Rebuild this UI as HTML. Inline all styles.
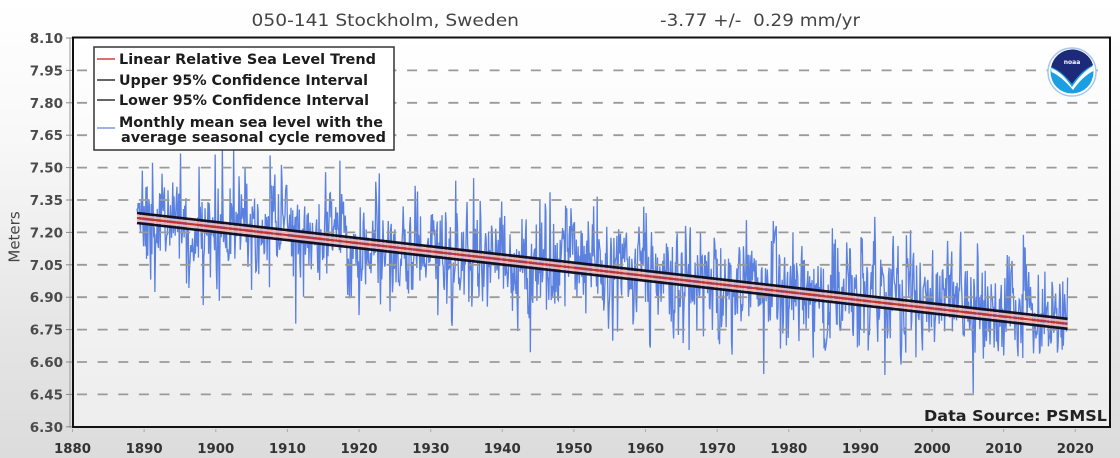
<!DOCTYPE html>
<html><head><meta charset="utf-8">
<style>
html,body{margin:0;padding:0;}
body{width:1120px;height:458px;overflow:hidden;background:linear-gradient(#ffffff 0%,#f8f8f8 30%,#e4e4e4 75%,#dcdcdc 100%);}
svg{display:block;}
text{font-family:"DejaVu Sans","Liberation Sans",sans-serif;}
</style></head><body>
<svg width="1120" height="458" viewBox="0 0 1120 458" xmlns="http://www.w3.org/2000/svg">
<defs>
<linearGradient id="pg" x1="0" y1="0" x2="0" y2="1"><stop offset="0" stop-color="#ffffff"/><stop offset="1" stop-color="#ededed"/></linearGradient>
<clipPath id="clip"><rect x="73" y="38" width="1037" height="389"/></clipPath>
</defs>

<text x="251.5" y="26" font-size="16.5" fill="#444" textLength="267.5" lengthAdjust="spacingAndGlyphs">050-141 Stockholm, Sweden</text>
<text x="660" y="26" font-size="16.5" fill="#444" textLength="200" lengthAdjust="spacingAndGlyphs" style="white-space:pre">-3.77 +/-  0.29 mm/yr</text>

<rect x="73" y="38" width="1037" height="389" fill="url(#pg)"/>

<polyline id="sea" clip-path="url(#clip)" fill="none" stroke="#5a80e0" stroke-width="1.3" points=""/>

<g stroke="#9a9a9a" stroke-width="1.8" stroke-dasharray="10 10.63">
<line x1="77" y1="70.4" x2="1108" y2="70.4"/>
<line x1="77" y1="102.8" x2="1108" y2="102.8"/>
<line x1="77" y1="135.2" x2="1108" y2="135.2"/>
<line x1="77" y1="167.6" x2="1108" y2="167.6"/>
<line x1="77" y1="200" x2="1108" y2="200"/>
<line x1="77" y1="232.4" x2="1108" y2="232.4"/>
<line x1="77" y1="264.8" x2="1108" y2="264.8"/>
<line x1="77" y1="297.2" x2="1108" y2="297.2"/>
<line x1="77" y1="329.6" x2="1108" y2="329.6"/>
<line x1="77" y1="362" x2="1108" y2="362"/>
<line x1="77" y1="394.4" x2="1108" y2="394.4"/>
</g>

<g fill="none">
<line x1="137" y1="213" x2="1067.6" y2="318.8" stroke="#111122" stroke-width="2.6"/>
<line x1="137" y1="223" x2="1067.6" y2="328.8" stroke="#111122" stroke-width="2.6"/>
<line x1="137" y1="215.6" x2="1067.6" y2="321.4" stroke="#e9b8b8" stroke-width="2"/>
<line x1="137" y1="220.4" x2="1067.6" y2="326.2" stroke="#e9b8b8" stroke-width="2"/>
<line x1="137" y1="218" x2="1067.6" y2="323.8" stroke="#c03434" stroke-width="2.2"/>
</g>

<rect x="94" y="47" width="300" height="103" fill="#ffffff" stroke="#333" stroke-width="1.5"/>
<line x1="97" y1="59" x2="115" y2="59" stroke="#d04040" stroke-width="1.5"/>
<line x1="97" y1="80" x2="115" y2="80" stroke="#333" stroke-width="1.5"/>
<line x1="97" y1="100" x2="115" y2="100" stroke="#333" stroke-width="1.5"/>
<line x1="97" y1="128" x2="115" y2="128" stroke="#7a98e4" stroke-width="1.5"/>
<g font-size="14" font-weight="bold" fill="#1c1c1c">
<text x="119" y="64" textLength="257" lengthAdjust="spacingAndGlyphs">Linear Relative Sea Level Trend</text>
<text x="119" y="85" textLength="249" lengthAdjust="spacingAndGlyphs">Upper 95% Confidence Interval</text>
<text x="119" y="105" textLength="250" lengthAdjust="spacingAndGlyphs">Lower 95% Confidence Interval</text>
<text x="119" y="127" textLength="264" lengthAdjust="spacingAndGlyphs">Monthly mean sea level with the</text>
<text x="121" y="142" textLength="265" lengthAdjust="spacingAndGlyphs">average seasonal cycle removed</text>
</g>

<g>
<circle cx="1072" cy="72" r="24" fill="#ffffff" stroke="#a6c8ea" stroke-width="1.5"/>
<circle cx="1072" cy="72" r="21.5" fill="#1a9fe3"/>
<path d="M1051,68 Q1062,72 1072,87 Q1082,72 1093,66 L1093.4,71 Q1083,76 1073,90 Q1061,76 1051.5,72 Z" fill="#ffffff"/>
<path d="M1051.2,67 A21.5,21.5 0 0 1 1093,65 Q1082,70 1072,84 Q1062,71 1051.2,67 Z" fill="#1d2a7a"/>
<text x="1072" y="64" font-size="6" font-weight="bold" fill="#ffffff" text-anchor="middle">noaa</text>
</g>

<text x="924" y="421" font-size="15" font-weight="bold" fill="#222" textLength="183" lengthAdjust="spacingAndGlyphs">Data Source: PSMSL</text>

<line x1="70" y1="38" x2="70" y2="428" stroke="#9a9a9a" stroke-width="1"/>
<rect x="73" y="37.5" width="1037" height="389.5" fill="none" stroke="#111" stroke-width="2"/>

<g stroke="#888" stroke-width="1">
<line x1="66" y1="38" x2="72" y2="38"/><line x1="66" y1="70.4" x2="72" y2="70.4"/><line x1="66" y1="102.8" x2="72" y2="102.8"/>
<line x1="66" y1="135.2" x2="72" y2="135.2"/><line x1="66" y1="167.6" x2="72" y2="167.6"/><line x1="66" y1="200" x2="72" y2="200"/>
<line x1="66" y1="232.4" x2="72" y2="232.4"/><line x1="66" y1="264.8" x2="72" y2="264.8"/><line x1="66" y1="297.2" x2="72" y2="297.2"/>
<line x1="66" y1="329.6" x2="72" y2="329.6"/><line x1="66" y1="362" x2="72" y2="362"/><line x1="66" y1="394.4" x2="72" y2="394.4"/>
<line x1="66" y1="426.8" x2="72" y2="426.8"/>
</g>
<g font-size="13.5" font-weight="bold" fill="#4a4a4a" text-anchor="end">
<text x="63" y="43">8.10</text>
<text x="63" y="75.4">7.95</text>
<text x="63" y="107.8">7.80</text>
<text x="63" y="140.2">7.65</text>
<text x="63" y="172.6">7.50</text>
<text x="63" y="205">7.35</text>
<text x="63" y="237.4">7.20</text>
<text x="63" y="269.8">7.05</text>
<text x="63" y="302.2">6.90</text>
<text x="63" y="334.6">6.75</text>
<text x="63" y="367">6.60</text>
<text x="63" y="399.4">6.45</text>
<text x="63" y="431.8">6.30</text>
</g>
<text transform="translate(19.5,237) rotate(-90)" font-size="15" fill="#444" text-anchor="middle">Meters</text>

<g stroke="#aaa" stroke-width="1">
<line x1="72.5" y1="429" x2="72.5" y2="432"/><line x1="144.1" y1="429" x2="144.1" y2="432"/><line x1="215.8" y1="429" x2="215.8" y2="432"/>
<line x1="287.4" y1="429" x2="287.4" y2="432"/><line x1="359" y1="429" x2="359" y2="432"/><line x1="430.7" y1="429" x2="430.7" y2="432"/>
<line x1="502.3" y1="429" x2="502.3" y2="432"/><line x1="573.9" y1="429" x2="573.9" y2="432"/><line x1="645.5" y1="429" x2="645.5" y2="432"/>
<line x1="717.2" y1="429" x2="717.2" y2="432"/><line x1="788.8" y1="429" x2="788.8" y2="432"/><line x1="860.4" y1="429" x2="860.4" y2="432"/>
<line x1="932.1" y1="429" x2="932.1" y2="432"/><line x1="1003.7" y1="429" x2="1003.7" y2="432"/><line x1="1075.3" y1="429" x2="1075.3" y2="432"/>
</g>
<g font-size="13.3" font-weight="bold" fill="#333" text-anchor="middle">
<text x="72.5" y="453">1880</text>
<text x="144.1" y="453">1890</text>
<text x="215.8" y="453">1900</text>
<text x="287.4" y="453">1910</text>
<text x="359" y="453">1920</text>
<text x="430.7" y="453">1930</text>
<text x="502.3" y="453">1940</text>
<text x="573.9" y="453">1950</text>
<text x="645.5" y="453">1960</text>
<text x="717.2" y="453">1970</text>
<text x="788.8" y="453">1980</text>
<text x="860.4" y="453">1990</text>
<text x="932.1" y="453">2000</text>
<text x="1003.7" y="453">2010</text>
<text x="1075.3" y="453">2020</text>
</g>
</svg>
<script>
(function(){
  var s=246813579;
  function rnd(){ s^=s<<13; s^=s>>>17; s^=s<<5; return (s>>>0)/4294967296; }
  function gauss(){ var u=0; for(var k=0;k<6;k++)u+=rnd(); return (u-3)*1.4142; }
  var pts=[], e=0, slow=0;
  for(var i=0;i<1560;i++){
    var t=1889+i/12;
    var w=gauss()*0.12; if(rnd()<0.06) w*=2.0;
    e=0.2*e+w;
    if(e>0.36) e=0.36; if(e<-0.38) e=-0.38;
    slow=0.97*slow+gauss()*0.008;
    var v=7.267-0.00377*(t-1889)+e+slow;
    var x=72.5+(t-1880)*7.163;
    var y=38+(8.10-v)*216;
    pts.push(x.toFixed(2)+','+y.toFixed(2));
  }
  document.getElementById('sea').setAttribute('points',pts.join(' '));
})();
</script>
</body></html>
